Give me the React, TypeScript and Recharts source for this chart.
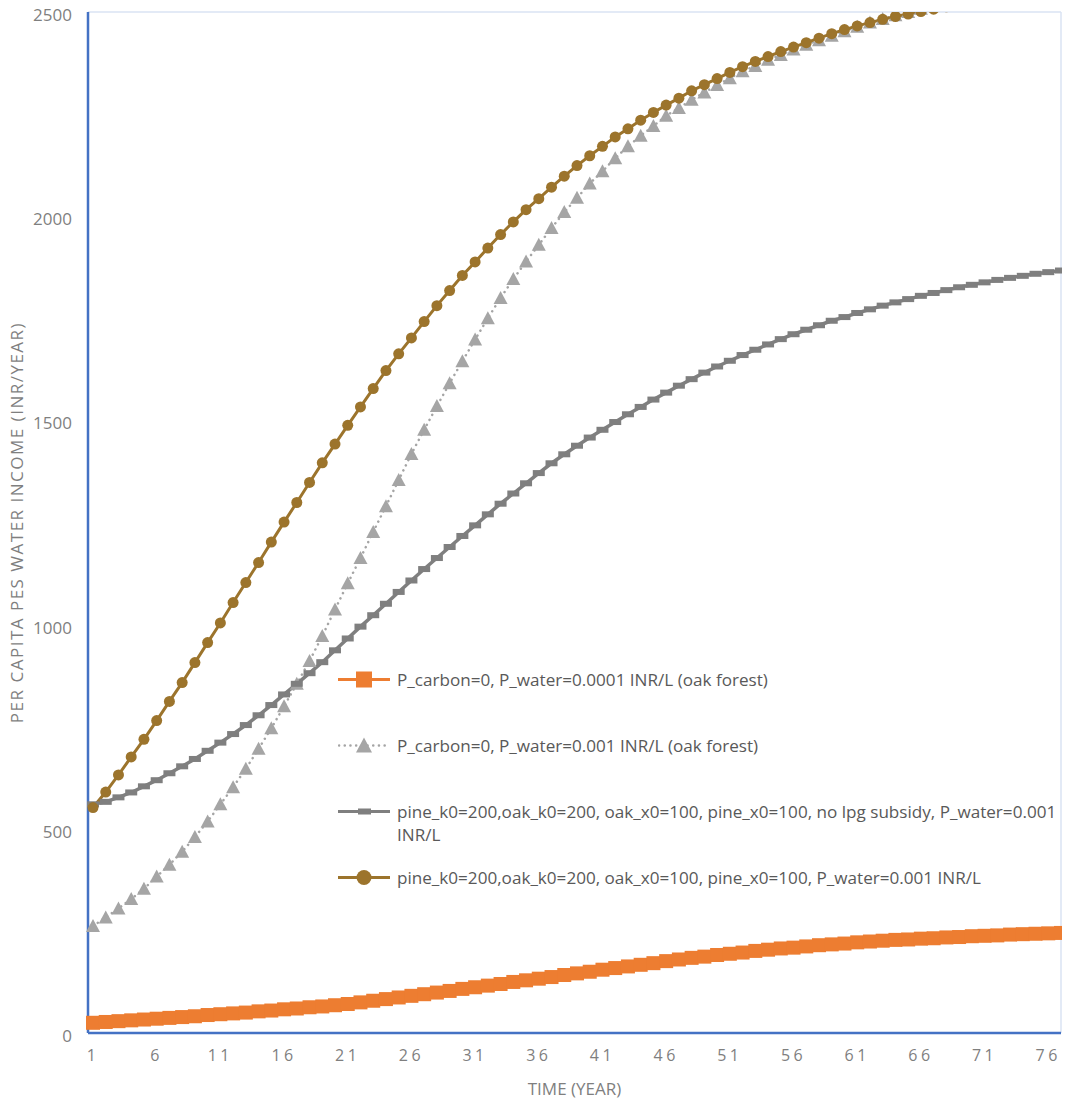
import React from 'react';
import { LineChart, Line, XAxis, YAxis, ReferenceLine } from 'recharts';

// Years on the category axis
const years = [
  1, 2, 3, 4, 5, 6, 7, 8, 9, 10, 11, 12, 13, 14, 15, 16, 17, 18, 19, 20,
  21, 22, 23, 24, 25, 26, 27, 28, 29, 30, 31, 32, 33, 34, 35, 36, 37, 38, 39, 40,
  41, 42, 43, 44, 45, 46, 47, 48, 49, 50, 51, 52, 53, 54, 55, 56, 57, 58, 59, 60,
  61, 62, 63, 64, 65, 66, 67, 68, 69, 70, 71, 72, 73, 74, 75, 76, 77,
];

// P_carbon=0, P_water=0.0001 INR/L (oak forest)
const oakWater0001 = [
  25, 27, 29, 31, 33, 35, 37, 39, 41, 44, 46, 48, 50, 53, 55, 58, 60, 63, 65, 68,
  71, 75, 79, 83, 87, 91, 95, 99, 103, 108, 112, 116, 120, 125, 129, 133, 137, 142, 146, 150,
  155, 159, 163, 167, 171, 176, 180, 184, 187, 191, 194, 197, 201, 204, 207, 209, 212, 215, 217, 219,
  222, 224, 226, 228, 229, 231, 232, 234, 235, 237, 238, 239, 241, 242, 243, 244, 245,
];

// P_carbon=0, P_water=0.001 INR/L (oak forest)
const oakWater001 = [
  262, 283, 305, 328, 353, 383, 412, 444, 480, 518, 560, 602, 647, 696, 746, 800, 855, 911, 972, 1037,
  1101, 1163, 1227, 1290, 1354, 1418, 1477, 1535, 1591, 1645, 1698, 1750, 1800, 1846, 1889, 1930, 1971, 2010, 2045, 2080,
  2110, 2142, 2171, 2197, 2221, 2246, 2265, 2285, 2303, 2321, 2338, 2355, 2368, 2383, 2395, 2408, 2420, 2431, 2442, 2453,
  2464, 2474, 2483, 2492, 2500, 2508, 2516, 2523, 2530, 2536, 2542, 2548, 2553, 2558, 2563, 2567, 2571,
];

// pine_k0=200, oak_k0=200, oak_x0=100, pine_x0=100, no lpg subsidy
const noLpgSubsidy = [
  560, 566, 577, 589, 604, 619, 636, 653, 671, 691, 711, 732, 754, 778, 803, 829, 855, 881, 908, 937,
  966, 995, 1023, 1051, 1080, 1108, 1136, 1163, 1190, 1217, 1243, 1270, 1296, 1321, 1346, 1371, 1395, 1417, 1438, 1458,
  1477, 1496, 1515, 1533, 1551, 1568, 1585, 1601, 1617, 1632, 1646, 1660, 1673, 1686, 1699, 1711, 1722, 1733, 1744, 1753,
  1763, 1772, 1781, 1789, 1797, 1805, 1812, 1819, 1826, 1832, 1838, 1844, 1849, 1854, 1859, 1863, 1867,
];

// pine_k0=200, oak_k0=200, oak_x0=100, pine_x0=100
const withLpgSubsidy = [
  552, 590, 632, 676, 719, 765, 812, 858, 907, 956, 1004, 1054, 1103, 1152, 1202, 1251, 1299, 1348, 1396, 1442,
  1488, 1533, 1578, 1622, 1663, 1702, 1742, 1781, 1818, 1855, 1888, 1922, 1955, 1986, 2016, 2043, 2071, 2098, 2124, 2148,
  2171, 2194, 2214, 2235, 2254, 2272, 2289, 2307, 2322, 2337, 2352, 2366, 2379, 2391, 2403, 2414, 2425, 2436, 2447, 2457,
  2466, 2474, 2482, 2489, 2495, 2501, 2507, 2513, 2518, 2523, 2528, 2533, 2537, 2541, 2545, 2549, 2553,
];

const yTicks = [0, 500, 1000, 1500, 2000, 2500];

const ORANGE = '#ED7D31';
const LIGHT_GRAY = '#A5A5A5';
const DARK_GRAY = '#7F7F7F';
const BROWN = '#9C742C';
const AXIS_BLUE = '#4472C4';
const TEXT_GRAY = '#7F7F7F';
const FONT = '"Open Sans", "Noto Sans", sans-serif';

const chartData = years.map((year, i) => ({
  year,
  low: oakWater0001[i],
  high: oakWater001[i],
  noSub: noLpgSubsidy[i],
  sub: withLpgSubsidy[i],
}));

const legendItems = [
  { kind: 'square', label: 'P_carbon=0, P_water=0.0001 INR/L (oak forest)' },
  { kind: 'triangle', label: 'P_carbon=0, P_water=0.001 INR/L (oak forest)' },
  { kind: 'dash', label: 'pine_k0=200,oak_k0=200, oak_x0=100, pine_x0=100, no lpg subsidy, P_water=0.001\nINR/L' },
  { kind: 'circle', label: 'pine_k0=200,oak_k0=200, oak_x0=100, pine_x0=100, P_water=0.001 INR/L' },
];

// marker renderers for the plot
const SquareDot = (props: any) => {
  const { cx, cy, index } = props;
  if (cx == null || cy == null) return null;
  return <rect key={`sq-${index}`} x={cx - 7} y={cy - 7} width={14} height={14} fill={ORANGE} />;
};

const TriangleDot = (props: any) => {
  const { cx, cy, index } = props;
  if (cx == null || cy == null) return null;
  return (
    <polygon
      key={`tr-${index}`}
      points={`${cx},${cy - 7} ${cx + 7},${cy + 6} ${cx - 7},${cy + 6}`}
      fill={LIGHT_GRAY}
    />
  );
};

const DashDot = (props: any) => {
  const { cx, cy, index } = props;
  if (cx == null || cy == null) return null;
  return <rect key={`da-${index}`} x={cx - 6} y={cy - 3} width={12} height={6} fill={DARK_GRAY} />;
};

const LegendIcon = ({ kind }: { kind: string }) => {
  const mid = 11.5;
  return (
    <svg width={52} height={23} style={{ flex: 'none' }}>
      {kind === 'square' && (
        <>
          <line x1={0} y1={mid} x2={52} y2={mid} stroke={ORANGE} strokeWidth={3} />
          <rect x={18} y={mid - 8} width={16} height={16} fill={ORANGE} />
        </>
      )}
      {kind === 'triangle' && (
        <>
          <line x1={1} y1={mid} x2={52} y2={mid} stroke={LIGHT_GRAY} strokeWidth={2.5}
            strokeDasharray="0.1 5.6" strokeLinecap="round" />
          <polygon points={`26,${mid - 8} 34,${mid + 7} 18,${mid + 7}`} fill={LIGHT_GRAY} />
        </>
      )}
      {kind === 'dash' && (
        <>
          <line x1={0} y1={mid} x2={52} y2={mid} stroke={DARK_GRAY} strokeWidth={3} />
          <rect x={20} y={mid - 3} width={13} height={6} fill={DARK_GRAY} />
        </>
      )}
      {kind === 'circle' && (
        <>
          <line x1={0} y1={mid} x2={52} y2={mid} stroke={BROWN} strokeWidth={3} />
          <circle cx={26} cy={mid} r={7.5} fill={BROWN} />
        </>
      )}
    </svg>
  );
};

const ChartLegend = () => (
  <div style={{ position: 'absolute', left: 338, top: 667.5, width: 740, fontFamily: FONT }}>
    {legendItems.map((item) => (
      <div key={item.kind} style={{ display: 'flex', alignItems: 'flex-start', height: 66 }}>
        <LegendIcon kind={item.kind} />
        <div style={{ marginLeft: 7, fontSize: 17.1, lineHeight: '23px', color: '#595959', whiteSpace: 'pre' }}>
          {item.label}
        </div>
      </div>
    ))}
  </div>
);

const YTitle = (props: any) => {
  const { viewBox } = props;
  const cx = viewBox.x + 8;
  const cy = viewBox.y + viewBox.height / 2;
  return (
    <text x={cx} y={cy} transform={`rotate(-90, ${cx}, ${cy})`} textAnchor="middle"
      dominantBaseline="central" fill={TEXT_GRAY} fontSize={17} letterSpacing={1.5} fontFamily={FONT}>
      PER CAPITA PES WATER INCOME (INR/YEAR)
    </text>
  );
};

const XTitle = (props: any) => {
  const { viewBox } = props;
  return (
    <text x={viewBox.x + viewBox.width / 2} y={viewBox.y + 55} textAnchor="middle"
      dominantBaseline="central" fill={TEXT_GRAY} fontSize={17} fontFamily={FONT}>
      TIME (YEAR)
    </text>
  );
};

export default function App() {
  return (
    <div style={{ position: 'relative', width: 1070, height: 1100, margin: '-8px 0 0 -8px', fontFamily: FONT }}>
      <LineChart width={1070} height={1100} data={chartData} margin={{ top: 12, right: 9, left: 8, bottom: 0 }}>
        <XAxis
          dataKey="year"
          type="category"
          interval={4}
          height={67}
          padding={{ left: 5, right: 0 }}
          tickLine={false}
          tickMargin={11}
          tick={{ fill: TEXT_GRAY, fontSize: 16, fontFamily: FONT, letterSpacing: 3.5 }}
          axisLine={{ stroke: AXIS_BLUE, strokeWidth: 2.5 }}
          label={{ content: XTitle }}
        />
        <YAxis
          type="number"
          domain={[0, 2500]}
          ticks={yTicks}
          allowDataOverflow
          width={80}
          tickLine={false}
          tickMargin={10}
          tick={{ fill: TEXT_GRAY, fontSize: 17, fontFamily: FONT, dy: 3 }}
          axisLine={{ stroke: AXIS_BLUE, strokeWidth: 2.5 }}
          label={{ content: YTitle }}
        />
        <ReferenceLine y={2500} stroke="#DAE3F3" strokeWidth={1.5} />
        <ReferenceLine x={77} stroke="#DAE3F3" strokeWidth={1.5} />
        <Line
          dataKey="low"
          name="P_carbon=0, P_water=0.0001 INR/L (oak forest)"
          stroke={ORANGE}
          strokeWidth={3}
          dot={SquareDot}
          activeDot={false}
          isAnimationActive={false}
        />
        <Line
          dataKey="high"
          name="P_carbon=0, P_water=0.001 INR/L (oak forest)"
          stroke={LIGHT_GRAY}
          strokeWidth={2.5}
          strokeDasharray="0.1 5.6"
          strokeLinecap="round"
          dot={TriangleDot}
          activeDot={false}
          isAnimationActive={false}
        />
        <Line
          dataKey="noSub"
          name="pine_k0=200,oak_k0=200, oak_x0=100, pine_x0=100, no lpg subsidy, P_water=0.001 INR/L"
          stroke={DARK_GRAY}
          strokeWidth={3.5}
          dot={DashDot}
          activeDot={false}
          isAnimationActive={false}
        />
        <Line
          dataKey="sub"
          name="pine_k0=200,oak_k0=200, oak_x0=100, pine_x0=100, P_water=0.001 INR/L"
          stroke={BROWN}
          strokeWidth={3}
          dot={{ r: 5.5, fill: BROWN, stroke: BROWN, strokeWidth: 0 }}
          activeDot={false}
          isAnimationActive={false}
        />
      </LineChart>
      <ChartLegend />
    </div>
  );
}
